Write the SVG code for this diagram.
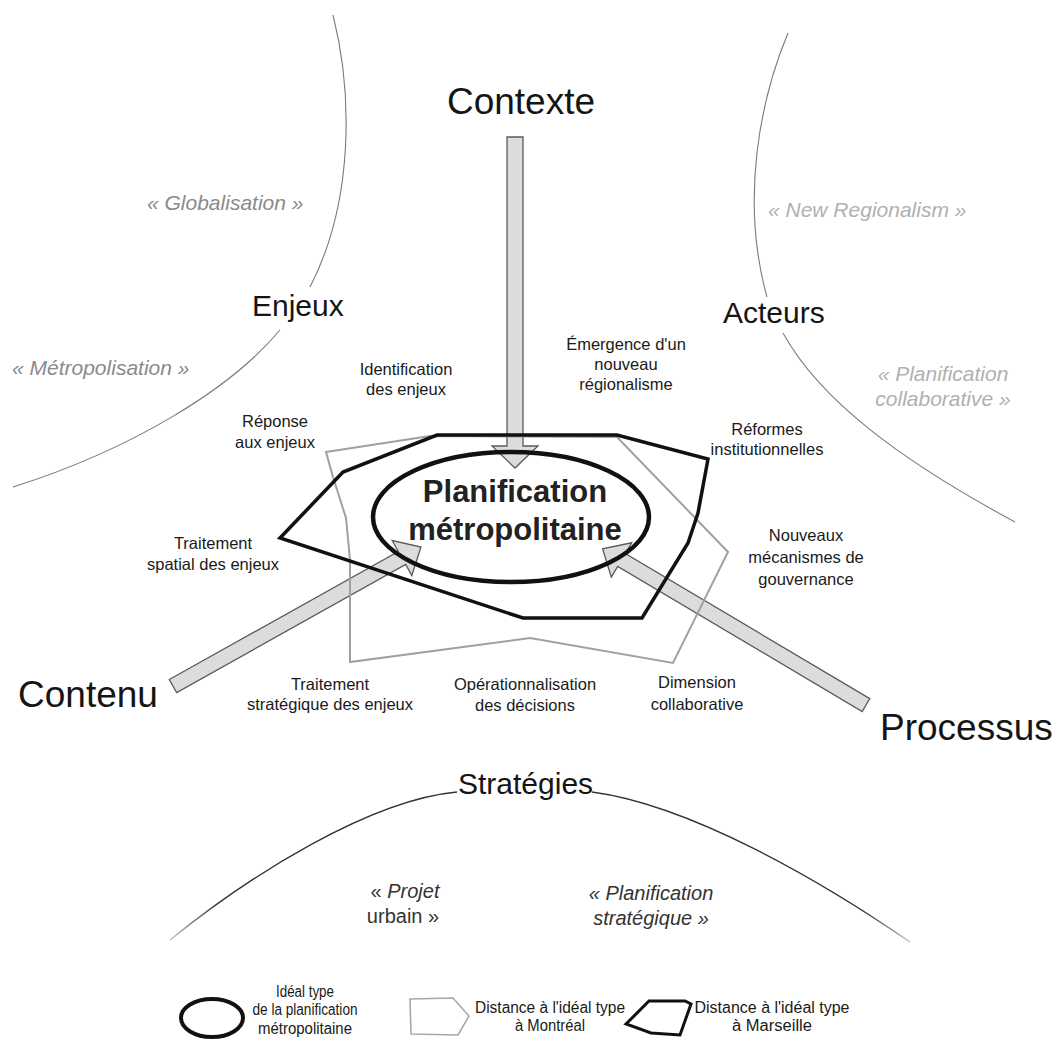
<svg xmlns="http://www.w3.org/2000/svg" width="1055" height="1042" viewBox="0 0 1055 1042">
<defs>
<style>
text{font-family:"Liberation Sans",Arial,sans-serif;}
.big{font-size:37px;fill:#151515;}
.mid{font-size:30px;fill:#151515;}
.lbl{font-size:16.5px;fill:#1a1a1a;text-anchor:middle;}
.ital{font-size:21px;font-style:italic;}
.g1{fill:#8a8a8a;}
.g2{fill:#b0b0b0;}
.sub{font-size:20px;fill:#333;text-anchor:middle;}
.leg{font-size:16px;fill:#1a1a1a;text-anchor:middle;}
.arc{fill:none;stroke:#7a7a7a;stroke-width:1.1;}
.arrow{fill:#dcdcdc;stroke:#5a5a5a;stroke-width:1.3;stroke-linejoin:miter;}
.mtl{fill:none;stroke:#a0a0a0;stroke-width:2;stroke-linejoin:miter;}
.mrs{fill:none;stroke:#111;stroke-width:3.5;stroke-linejoin:miter;}
.ideal{fill:none;stroke:#111;stroke-width:4.5;}
</style>
<linearGradient id="botgrad" gradientUnits="userSpaceOnUse" x1="165" y1="0" x2="915" y2="0">
<stop offset="0" stop-color="#d0d0d0"/>
<stop offset="0.07" stop-color="#333"/>
<stop offset="0.93" stop-color="#333"/>
<stop offset="1" stop-color="#d0d0d0"/>
</linearGradient>
</defs>
<rect width="1055" height="1042" fill="#fff"/>

<g id="arcs">
<path class="arc" d="M333,15 C352,90 355,200 310,287"/>
<path class="arc" d="M280,330 C230,390 130,450 13,487"/>
<path class="arc" d="M788,33 C760,100 740,200 767,297" stroke="#9a9a9a"/>
<path class="arc" d="M783,333 C820,400 900,460 1015,522" stroke="#9a9a9a"/>
<path d="M170,940 C250,875 370,800 457,792" fill="none" stroke="url(#botgrad)" stroke-width="1.3"/>
<path d="M592,792 C690,805 820,880 910,942" fill="none" stroke="url(#botgrad)" stroke-width="1.3"/>
</g>

<g id="connectors">
<polygon class="arrow" points="507,137 523,137 523,446 538,446 515,468 492,446 507,446"/>
<polygon class="arrow" points="169.3,679.5 398.3,551.5 392.2,540.5 421,547 411.8,575.5 405.7,564.5 176.7,692.5"/>
<polygon class="arrow" points="869.8,698.6 625.3,553.6 631.7,542.8 602.6,548.8 611.3,577.2 617.7,566.5 862.2,711.5"/>
</g>

<g id="montreal">
<polygon class="mtl" points="326,452 430,436 617,437 728,552 673,663 530,638 350,662 350,560 346,518 333,477"/>
</g>
<g id="marseille">
<polygon class="mrs" points="437,435 617,435 708,459 698,513 688,543 642,618 523,618 280,538 343,472"/>
</g>
<g id="ideal">
<ellipse class="ideal" cx="511" cy="517" rx="138" ry="65"/>
<text x="515" y="502" text-anchor="middle" font-size="31" font-weight="bold" fill="#222">Planification</text>
<text x="515" y="540" text-anchor="middle" font-size="31" font-weight="bold" fill="#222">métropolitaine</text>
</g>

<g id="contexte"><text class="big" x="521" y="114" text-anchor="middle">Contexte</text></g>
<g id="enjeux"><text class="mid" x="252" y="316">Enjeux</text></g>
<g id="acteurs"><text class="mid" x="723" y="323">Acteurs</text></g>
<g id="contenu"><text class="big" x="18" y="707" font-size="39">Contenu</text></g>
<g id="processus"><text class="big" x="880" y="740">Processus</text></g>
<g id="strategies"><text class="mid" x="458" y="794">Stratégies</text></g>

<g id="theories">
<text class="ital g1" x="147" y="210">« Globalisation »</text>
<text class="ital g1" x="12" y="375">« Métropolisation »</text>
<text class="ital g2" x="768" y="217">« New Regionalism »</text>
<text class="ital g2" x="943" y="381" text-anchor="middle">« Planification</text>
<text class="ital g2" x="943" y="406" text-anchor="middle">collaborative »</text>
<text class="sub" x="405" y="898">« <tspan font-style="italic">Projet</tspan></text>
<text class="sub" x="403" y="923">urbain »</text>
<text class="sub" x="651" y="900" font-style="italic">« Planification</text>
<text class="sub" x="651" y="925" font-style="italic">stratégique »</text>
</g>

<g id="labels">
<g id="l-identification"><text class="lbl" x="406" y="375">Identification</text><text class="lbl" x="406" y="395">des enjeux</text></g>
<g id="l-emergence"><text class="lbl" x="626" y="350">Émergence d'un</text><text class="lbl" x="626" y="370">nouveau</text><text class="lbl" x="626" y="390">régionalisme</text></g>
<g id="l-reponse"><text class="lbl" x="275" y="427">Réponse</text><text class="lbl" x="275" y="448">aux enjeux</text></g>
<g id="l-reformes"><text class="lbl" x="767" y="435">Réformes</text><text class="lbl" x="767" y="455">institutionnelles</text></g>
<g id="l-spatial"><text class="lbl" x="213" y="549">Traitement</text><text class="lbl" x="213" y="570">spatial des enjeux</text></g>
<g id="l-nouveaux"><text class="lbl" x="806" y="541">Nouveaux</text><text class="lbl" x="806" y="563">mécanismes de</text><text class="lbl" x="806" y="585">gouvernance</text></g>
<g id="l-strategique"><text class="lbl" x="330" y="690">Traitement</text><text class="lbl" x="330" y="710">stratégique des enjeux</text></g>
<g id="l-operation"><text class="lbl" x="525" y="690">Opérationnalisation</text><text class="lbl" x="525" y="711">des décisions</text></g>
<g id="l-dimension"><text class="lbl" x="697" y="688">Dimension</text><text class="lbl" x="697" y="710">collaborative</text></g>
</g>

<g id="legend">
<ellipse cx="212" cy="1018" rx="31" ry="19" fill="none" stroke="#111" stroke-width="4"/>
<text class="leg" x="305" y="997" textLength="58" lengthAdjust="spacingAndGlyphs">Idéal type</text>
<text class="leg" x="305" y="1015" textLength="105" lengthAdjust="spacingAndGlyphs">de la planification</text>
<text class="leg" x="305" y="1034" textLength="94" lengthAdjust="spacingAndGlyphs">métropolitaine</text>
<polygon points="410,999 453,998 469,1016 458,1035 411,1034" fill="none" stroke="#a8a8a8" stroke-width="1.6"/>
<text class="leg" x="550" y="1013" textLength="150" lengthAdjust="spacingAndGlyphs">Distance à l'idéal type</text>
<text class="leg" x="550" y="1031" textLength="70" lengthAdjust="spacingAndGlyphs">à Montréal</text>
<polygon points="626,1024 649,1001 685,1001 691,1004 680,1035 651,1033" fill="none" stroke="#111" stroke-width="3"/>
<text class="leg" x="772" y="1013" textLength="155" lengthAdjust="spacingAndGlyphs">Distance à l'idéal type</text>
<text class="leg" x="772" y="1031" textLength="80" lengthAdjust="spacingAndGlyphs">à Marseille</text>
</g>
</svg>
